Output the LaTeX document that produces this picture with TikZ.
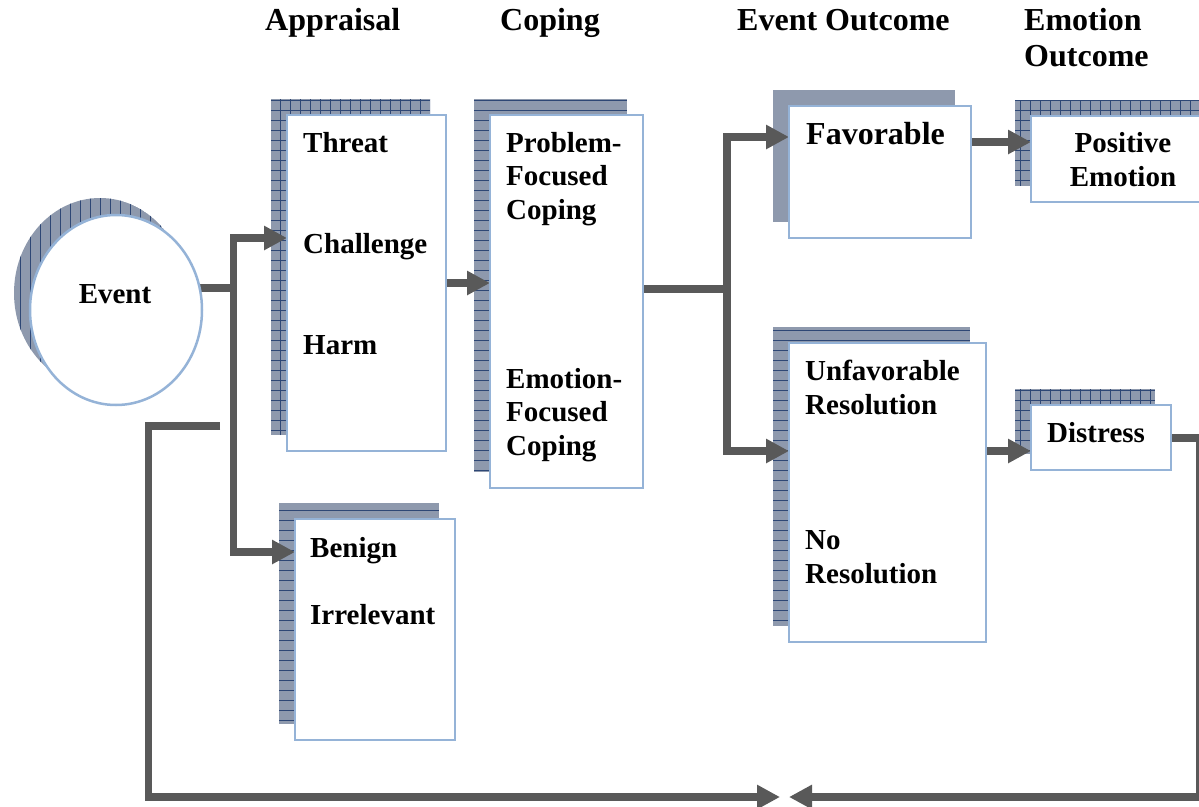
\documentclass[tikz,border=0pt]{standalone}
\usepackage{fontspec}
\setmainfont{Liberation Serif}
\usetikzlibrary{arrows.meta,calc,shapes.geometric}
\pgfdeclarelayer{shadowlayer}
\pgfdeclarelayer{connlayer}
\pgfsetlayers{shadowlayer,connlayer,main}
\definecolor{linecol}{HTML}{595959}
\definecolor{bordercol}{HTML}{95B3D7}
\definecolor{shadowcol}{HTML}{8E99AD}
\definecolor{gridcol}{HTML}{2E4775}
\newcommand\myshadow[2]{%
  \begin{scope}
    \clip ($(#1.north west)+(-16,-16)$) rectangle ($(#1.south east)+(-16,-16)$);
    \fill[shadowcol] ($(#1.north west)+(-16,-16)$) rectangle ($(#1.south east)+(-16,-16)$);
    \draw[gridcol,line width=0.6pt] ($(#1.north west)+(-16,-16)$) grid[#2] ($(#1.south east)+(-16,-16)$);
  \end{scope}}
\begin{document}
\begin{tikzpicture}[x=1pt,y=-1pt,
  box/.style={draw=bordercol,line width=2.5pt,fill=white,inner sep=0pt,outer sep=0pt,anchor=north west},
  head/.style={font=\fontsize{32}{34}\selectfont\bfseries,inner sep=0pt,anchor=base west},
  txt/.style={font=\fontsize{29}{34}\selectfont\bfseries,inner sep=0pt,anchor=base west},
  ctxt/.style={font=\fontsize{29}{34}\selectfont\bfseries,inner sep=0pt,anchor=base},
  conn/.style={draw=linecol,line width=7.5pt},
  tip/.style={-{Triangle[length=23pt,width=23pt]}}]
\useasboundingbox (0,0) rectangle (1199,806);
\clip (0,0) rectangle (1199,806);

% headers
\node[head] (h1) at (265,30) {Appraisal};
\node[head] (h2) at (500,30) {Coping};
\node[head] (h3) at (737,30) {Event Outcome};
\node[head] (h4) at (1024,30) {Emotion};
\node[head] (h5) at (1024,66) {Outcome};

% event
\node[ellipse,draw=bordercol,line width=2.5pt,fill=white,inner sep=0pt,outer sep=0pt,
      minimum width=172pt,minimum height=190pt] (event) at (116,310) {};
\node[ctxt] (evtxt) at (115,303) {Event};

% boxes
\node[box,minimum width=159pt,minimum height=336pt] (appr) at (287,115) {};
\node[txt] (t1) at (303,152) {Threat};
\node[txt] (t2) at (303,253) {Challenge};
\node[txt] (t3) at (303,354) {Harm};

\node[box,minimum width=160pt,minimum height=221pt] (benign) at (295,519) {};
\node[txt] (t4) at (310,557) {Benign};
\node[txt] (t5) at (310,624) {Irrelevant};

\node[box,minimum width=153pt,minimum height=373pt] (coping) at (490,115) {};
\node[txt] (c1) at (506,152) {Problem-};
\node[txt] (c2) at (506,185) {Focused};
\node[txt] (c3) at (506,219) {Coping};
\node[txt] (c4) at (506,388) {Emotion-};
\node[txt] (c5) at (506,421) {Focused};
\node[txt] (c6) at (506,455) {Coping};

\node[box,minimum width=182pt,minimum height=132pt] (fav) at (789,106) {};
\node[head] (f1) at (806,144) {Favorable};

\node[box,minimum width=197pt,minimum height=299pt] (unfav) at (789,343) {};
\node[txt] (u1) at (805,380) {Unfavorable};
\node[txt] (u2) at (805,414) {Resolution};
\node[txt] (u3) at (805,549) {No};
\node[txt] (u4) at (805,583) {Resolution};

\node[box,minimum width=200pt,minimum height=86pt] (pos) at (1031,116) {};
\node[ctxt] (p1) at (1123,152) {Positive};
\node[ctxt] (p2) at (1123,186) {Emotion};

\node[box,minimum width=140pt,minimum height=65pt] (dist) at (1031,405) {};
\node[txt] (d1) at (1047,442) {Distress};

% shadows
\begin{pgfonlayer}{shadowlayer}
  \clip (0,0) rectangle (1199,806);
  \begin{scope}
    \clip (100,293) ellipse [x radius=86, y radius=95];
    \fill[shadowcol] (100,293) ellipse [x radius=86, y radius=95];
    \draw[gridcol,line width=0.6pt] (10,190) grid[xstep=10pt,ystep=5000pt] (200,400);
  \end{scope}
  \myshadow{appr}{xstep=10pt,ystep=10pt}
  \myshadow{benign}{xstep=5000pt,ystep=10pt}
  \myshadow{coping}{xstep=5000pt,ystep=10pt}
  \myshadow{fav}{xstep=5000pt,ystep=5000pt}
  \myshadow{unfav}{xstep=5000pt,ystep=10pt}
  \myshadow{pos}{xstep=10pt,ystep=10pt}
  \myshadow{dist}{xstep=10pt,ystep=10pt}
\end{pgfonlayer}

% connectors
\begin{pgfonlayer}{connlayer}
  \clip (0,0) rectangle (1199,806);
  \coordinate (j1) at (233.5,288);
  \coordinate (j2) at (727,289);
  \coordinate (rcorner) at (1200,797);
  \coordinate (rtip) at (789,797);
  \coordinate (lstart) at (220,426);
  \coordinate (lcorner) at (148.5,797);
  \coordinate (ltip) at (780,797);
  \draw[conn] (event.center |- j1) -- (j1);
  \draw[conn,tip] ($(j1)+(0,3.75)$) |- ($(appr.north west)+(0,123)$);
  \draw[conn,tip] ($(j1)+(0,-3.75)$) |- ($(benign.north west)+(0,33)$);
  \draw[conn,tip] ($(appr.north east)+(0,168)$) -- ($(coping.north west)+(0,168)$);
  \draw[conn] ($(coping.north east)+(0,174)$) -- (j2);
  \draw[conn,tip] ($(j2)+(0,3.75)$) |- ($(fav.north west)+(0,31)$);
  \draw[conn,tip] ($(j2)+(0,-3.75)$) |- ($(unfav.north west)+(0,108)$);
  \draw[conn,tip] ($(fav.north east)+(0,36)$) -- ($(pos.north west)+(0,26)$);
  \draw[conn,tip] ($(unfav.north east)+(0,108)$) -- ($(dist.north west)+(0,46)$);
  \draw[conn,tip] ($(dist.north east)+(0,33)$) -| (rcorner) -- (rtip);
  \draw[conn,tip] (lstart) -| (lcorner) -- (ltip);
\end{pgfonlayer}
\end{tikzpicture}
\end{document}
